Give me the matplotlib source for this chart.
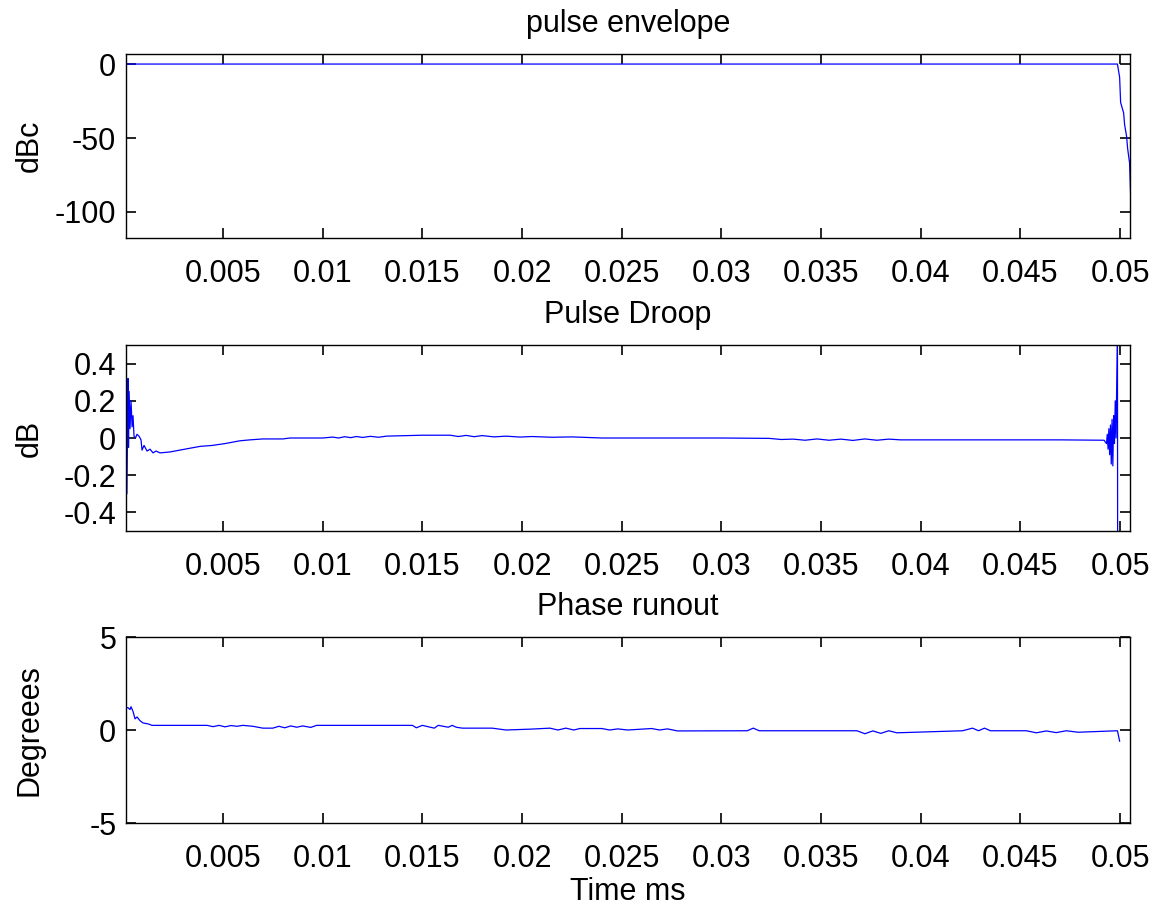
import matplotlib
matplotlib.use('Agg')
import matplotlib.pyplot as plt

# ---------- Data (time in ms) ---------- #

env_t = [0.000135, 0.00015, 0.0490, 0.04987, 0.04998, 0.05003, 0.05018,
         0.05023, 0.05033, 0.05038, 0.05048, 0.0506]
env_db = [-5, 0, 0, 0, -9, -26, -33, -41, -49, -57, -67, -117]

droop_t = [0.000135, 0.00014, 0.00018, 0.000235, 0.00026, 0.00029, 0.000336,
           0.000386, 0.00044, 0.000486, 0.000536, 0.00061, 0.000687,
           0.000787, 0.000888, 0.000938, 0.00104, 0.00119, 0.00134, 0.00149,
           0.00164, 0.00184, 0.00234, 0.00284, 0.00334, 0.00385, 0.00445,
           0.0051, 0.00585, 0.00635, 0.007, 0.0080, 0.00836, 0.0100, 0.0105,
           0.0108, 0.0111, 0.0114, 0.0117, 0.0120, 0.0124, 0.0128, 0.0132,
           0.0139, 0.0150, 0.0164, 0.0168, 0.0172, 0.0176, 0.0180, 0.0186,
           0.0192, 0.0199, 0.0205, 0.0215, 0.0225, 0.0240, 0.0300, 0.0324,
           0.0330, 0.0336, 0.0342, 0.0348, 0.0354, 0.0360, 0.0366, 0.0372,
           0.0378, 0.0384, 0.0390, 0.0420, 0.0470, 0.0492, 0.04932, 0.04936,
           0.0494, 0.04944, 0.04948, 0.04952, 0.04956, 0.0496, 0.04964,
           0.04968, 0.04972, 0.04976, 0.0498, 0.04987, 0.04988]
droop_db = [-0.6, 0.6, -0.3, 0.32, -0.05, 0.25, 0.05,
            0.2, 0.06, 0.12, 0.01, 0.0, 0.02,
            0.01, -0.01, -0.065, -0.04, -0.07, -0.06, -0.08,
            -0.07, -0.08, -0.075, -0.065, -0.055, -0.045, -0.04,
            -0.03, -0.015, -0.01, -0.005, -0.005, 0.0, 0.0, 0.005,
            0.0, 0.007, 0.002, 0.008, 0.003, 0.009, 0.004, 0.01,
            0.012, 0.015, 0.015, 0.008, 0.014, 0.007, 0.013, 0.006,
            0.01, 0.005, 0.008, 0.004, 0.006, 0.0, 0.0, -0.002,
            -0.008, -0.006, -0.012, -0.005, -0.012, -0.006, -0.013, -0.005,
            -0.012, -0.006, -0.01, -0.01, -0.01, -0.012, -0.03, 0.02,
            -0.06, 0.05, -0.09, 0.07, -0.14, 0.1, -0.15,
            0.12, -0.03, 0.2, 0.0, 0.6, -0.6]

phase_t = [0.000135, 0.00014, 0.000235, 0.000336, 0.000386, 0.000486,
           0.000587, 0.000687, 0.000838, 0.000988, 0.00124, 0.00144,
           0.0042, 0.0045, 0.0048, 0.0051, 0.0054, 0.0057, 0.0060, 0.0065,
           0.0070, 0.0075, 0.0078, 0.0081, 0.0084, 0.0087, 0.0090, 0.0094,
           0.0097, 0.0145, 0.0147, 0.0150, 0.0156, 0.0158, 0.0163, 0.0165,
           0.0167, 0.0170, 0.0185, 0.0192, 0.0205, 0.0214, 0.0218, 0.0222,
           0.0226, 0.0229, 0.0240, 0.0244, 0.0248, 0.0253, 0.0265, 0.0269,
           0.0273, 0.0278, 0.0313, 0.0316, 0.0319, 0.0368, 0.0372, 0.0376,
           0.0380, 0.0384, 0.0388, 0.0421, 0.0426, 0.0429, 0.0432, 0.0435,
           0.0453, 0.0458, 0.0463, 0.0468, 0.0473, 0.0479, 0.04987, 0.04998]
phase_deg = [-1.0, 1.2, 1.2, 1.1, 1.25, 1.0,
             0.6, 0.7, 0.5, 0.38, 0.33, 0.25,
             0.25, 0.18, 0.25, 0.17, 0.24, 0.2, 0.25, 0.2,
             0.1, 0.1, 0.2, 0.12, 0.22, 0.15, 0.22, 0.14,
             0.25, 0.25, 0.12, 0.25, 0.1, 0.25, 0.15, 0.25,
             0.15, 0.1, 0.1, 0.0, 0.05, 0.1, 0.0, 0.1,
             0.0, 0.08, 0.08, 0.0, 0.06, 0.0, 0.08, 0.0,
             0.06, -0.05, -0.04, 0.1, -0.04, -0.04, -0.2, -0.05,
             -0.18, -0.04, -0.15, -0.04, 0.1, -0.04, 0.1, -0.04,
             -0.04, -0.15, -0.05, -0.14, -0.04, -0.12, -0.04, -0.6]

x_ticks = [0.005, 0.01, 0.015, 0.02, 0.025, 0.03, 0.035, 0.04, 0.045, 0.05]
x_ticklabels = ['0.005', '0.01', '0.015', '0.02', '0.025', '0.03', '0.035',
                '0.04', '0.045', '0.05']

# ---------- Style ---------- #

plt.rcParams['font.family'] = ['Liberation Sans', 'DejaVu Sans']
tick_fs = 22
lab_fs = 22

fig = plt.figure(figsize=(11.54, 9.06), dpi=100)

panels = [
    ([0.1092, 0.7373, 0.870, 0.2031], env_t, env_db, (-117.6, 6.8),
     [-100, -50, 0], ['-100', '-50', '0'], 'pulse envelope', 'dBc'),
    ([0.1092, 0.4139, 0.870, 0.2053], droop_t, droop_db, (-0.5, 0.5),
     [-0.4, -0.2, 0, 0.2, 0.4], ['-0.4', '-0.2', '0', '0.2', '0.4'],
     'Pulse Droop', 'dB'),
    ([0.1092, 0.0916, 0.870, 0.2053], phase_t, phase_deg, (-5, 5),
     [-5, 0, 5], ['-5', '0', '5'], 'Phase runout', 'Degreees'),
]

for i, (pos, t, y, ylim, yt, ytl, title, ylab) in enumerate(panels):
    ax = fig.add_axes(pos)
    ax.plot(t, y, color='#0000ff', lw=0.9)
    ax.set_xlim(0.000135, 0.0505)
    ax.set_ylim(*ylim)
    ax.set_xticks(x_ticks)
    ax.set_xticklabels(x_ticklabels)
    ax.set_yticks(yt)
    ax.set_yticklabels(ytl)
    ax.tick_params(direction='in', top=True, right=True, length=7,
                   width=1.2, labelsize=tick_fs, pad=7)
    ax.tick_params(axis='x', pad=15)
    for sp in ax.spines.values():
        sp.set_linewidth(1.0)
    ax.set_title(title, fontsize=lab_fs, pad=16)
    ax.set_ylabel(ylab, fontsize=lab_fs)
    ax.yaxis.set_label_coords(-0.081, 0.5)
    if i == 2:
        ax.set_xlabel('Time ms', fontsize=lab_fs, labelpad=2)

fig.savefig('out.png', dpi=100)
